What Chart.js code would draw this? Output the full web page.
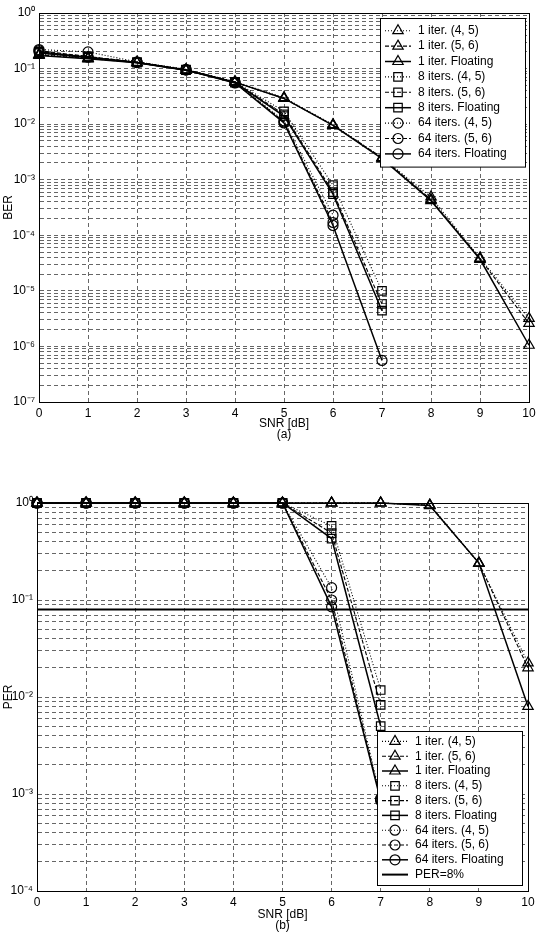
<!DOCTYPE html>
<html>
<head>
<meta charset="utf-8">
<script src="https://cdn.jsdelivr.net/npm/chart.js@4.4.1/dist/chart.umd.min.js"></script>
<style>
    html, body { margin: 0; padding: 0; background: #fff; overflow: hidden; }
    canvas { position: absolute; left: 0; }
    #berChart { top: 0; }
    #perChart { top: 450px; }
</style>
</head>
<body>
<canvas id="berChart" width="540" height="450"></canvas>
<canvas id="perChart" width="540" height="484"></canvas>
<script>
(function figure () {
    'use strict';

    var snr = [0, 1, 2, 3, 4, 5, 6, 7, 8, 9, 10];

    // (a) BER
    var ber1iter45 = [0.18, 0.155, 0.13, 0.095, 0.058, 0.030, 0.0098, 0.0025, 0.00049, 0.000039, 0.0000032];
    var ber1iter56 = [0.176, 0.152, 0.128, 0.094, 0.057, 0.029, 0.0096, 0.0025, 0.00044, 0.000038, 0.0000026];
    var ber1iterFl = [0.172, 0.150, 0.127, 0.093, 0.057, 0.029, 0.0095, 0.0024, 0.00042, 0.000037, 0.00000105];
    var ber8iter45 = [0.20, 0.165, 0.130, 0.096, 0.058, 0.017, 0.0008, 0.00001];
    var ber8iter56 = [0.195, 0.160, 0.130, 0.095, 0.057, 0.015, 0.0006, 0.0000058];
    var ber8iterFl = [0.19, 0.158, 0.128, 0.094, 0.056, 0.014, 0.00055, 0.0000044];
    var ber64iter45 = [0.22, 0.20, 0.132, 0.097, 0.057, 0.0115, 0.00023];
    var ber64iter56 = [0.21, 0.165, 0.130, 0.095, 0.056, 0.011, 0.00017];
    var ber64iterFl = [0.20, 0.160, 0.128, 0.094, 0.055, 0.0105, 0.00015, 0.00000056];

    // (b) PER
    var per1iter45 = [1, 1, 1, 1, 1, 1, 1, 1, 0.95, 0.24, 0.0225];
    var per1iter56 = [1, 1, 1, 1, 1, 1, 1, 1, 0.95, 0.24, 0.020];
    var per1iterFl = [1, 1, 1, 1, 1, 1, 1, 1, 0.94, 0.24, 0.008];
    var per8iter45 = [1, 1, 1, 1, 1, 1, 0.58, 0.0118];
    var per8iter56 = [1, 1, 1, 1, 1, 1, 0.49, 0.0083];
    var per8iterFl = [1, 1, 1, 1, 1, 1, 0.43, 0.005];
    var per64iter45 = [1, 1, 1, 1, 1, 1, 0.134, 0.0009];
    var per64iter56 = [1, 1, 1, 1, 1, 1, 0.100, 0.00088];
    var per64iterFl = [1, 1, 1, 1, 1, 1, 0.085, 0.00085];
    var perTarget = 0.08;

    var berDecades = [0, -1, -2, -3, -4, -5, -6, -7];
    var berTickLabels = ['10⁰', '10⁻¹', '10⁻²', '10⁻³', '10⁻⁴', '10⁻⁵', '10⁻⁶', '10⁻⁷'];
    var perDecades = [0, -1, -2, -3, -4];
    var perTickLabels = ['10⁰', '10⁻¹', '10⁻²', '10⁻³', '10⁻⁴'];

    var FONT = '"Liberation Sans", Arial, sans-serif';
    var dashes = { dot: [1, 2], dash: [4, 2], solid: [] };
    var sizes = { triangle: 6, rect: 6, circle: 5 };

    Chart.defaults.font.family = FONT;
    Chart.defaults.font.size = 12;
    Chart.defaults.color = '#000';

    function series (label, values, line, shape) {
        return {
            label: label,
            data: values.map(function (y, i) { return { x: snr[i], y: y }; }),
            borderColor: '#000',
            borderWidth: line === 'solid' ? 1.5 : 1.1,
            borderDash: dashes[line],
            pointStyle: shape,
            pointRadius: sizes[shape],
            pointBorderColor: '#000',
            pointBorderWidth: 1.2,
            pointBackgroundColor: 'rgba(0,0,0,0)',
            tension: 0,
            clip: false
        };
    }

    function drawMarker (ctx, shape, x, y, r) {
        ctx.beginPath();
        if (shape === 'triangle') {
            ctx.moveTo(x, y - r);
            ctx.lineTo(x + 0.866 * r, y + 0.5 * r);
            ctx.lineTo(x - 0.866 * r, y + 0.5 * r);
            ctx.closePath();
        } else if (shape === 'rect') {
            var h = r * Math.SQRT1_2;
            ctx.rect(x - h, y - h, 2 * h, 2 * h);
        } else {
            ctx.arc(x, y, r, 0, Math.PI * 2);
        }
        ctx.stroke();
    }

    // box round the axes and a matlab style legend
    var matlabLegend = {
        id: 'matlabLegend',
        afterDatasetsDraw: function (chart, args, opts) {
            var ctx = chart.ctx;
            var area = chart.chartArea;
            var items = chart.data.datasets;
            var w = opts.width;
            var h = opts.rowHeight * items.length + opts.pad * 2;
            var x0 = Math.round(area.right - opts.right - w);
            var y0 = Math.round(opts.top !== undefined ? area.top + opts.top : area.bottom - opts.bottom - h);

            ctx.save();
            ctx.strokeStyle = '#000';
            ctx.lineWidth = 1;
            ctx.strokeRect(Math.round(area.left) + 0.5, Math.round(area.top) + 0.5,
                Math.round(area.right - area.left), Math.round(area.bottom - area.top));

            ctx.fillStyle = '#fff';
            ctx.fillRect(x0, y0, w, h);
            ctx.strokeRect(x0 + 0.5, y0 + 0.5, w, h);

            ctx.font = '12px ' + FONT;
            ctx.textBaseline = 'middle';
            items.forEach(function (ds, i) {
                var y = y0 + opts.pad + opts.rowHeight * (i + 0.5);
                ctx.strokeStyle = '#000';
                ctx.lineWidth = ds.borderWidth;
                ctx.setLineDash(ds.borderDash || []);
                ctx.beginPath();
                ctx.moveTo(x0 + 5, y);
                ctx.lineTo(x0 + 31, y);
                ctx.stroke();
                ctx.setLineDash([]);
                ctx.lineWidth = 1.2;
                if (ds.pointRadius) {
                    drawMarker(ctx, ds.pointStyle, x0 + 18, y, ds.pointRadius);
                }
                ctx.fillStyle = '#000';
                ctx.fillText(ds.label, x0 + 38, y);
            });
            ctx.restore();
        }
    };

    function logTicks (decades) {
        var hi = decades[0];
        var lo = decades[decades.length - 1];
        return function (scale) {
            var ticks = [];
            for (var e = lo; e < hi; e++) {
                for (var k = 1; k <= 9; k++) {
                    ticks.push({ value: Number(k + 'e' + e) });
                }
            }
            ticks.push({ value: Number('1e' + hi) });
            scale.ticks = ticks;
        };
    }

    function decadeLabel (decades, labels) {
        return function (value) {
            var e = Math.round(Math.log10(value));
            if (Math.abs(value / Math.pow(10, e) - 1) < 1e-6) {
                return labels[decades.indexOf(e)];
            }
            return '';
        };
    }

    function makeChart (id, datasets, o) {
        var grid = {
            color: 'rgba(0,0,0,0.6)',
            lineWidth: 1,
            drawTicks: false
        };
        var border = { display: true, color: '#000', width: 1, dash: [4, 3] };

        return new Chart(document.getElementById(id).getContext('2d'), {
            type: 'line',
            data: { datasets: datasets },
            plugins: [matlabLegend],
            options: {
                responsive: false,
                animation: false,
                devicePixelRatio: 1,
                layout: { padding: { top: o.padTop, right: o.padRight, left: 0, bottom: 0 } },
                plugins: {
                    legend: { display: false },
                    tooltip: { enabled: false },
                    matlabLegend: o.legend
                },
                scales: {
                    x: {
                        type: 'linear',
                        min: 0,
                        max: 10,
                        grid: grid,
                        border: border,
                        ticks: { stepSize: 1, autoSkip: false, maxRotation: 0, padding: 4 },
                        title: {
                            display: true,
                            text: o.xTitle,
                            font: { size: 12, lineHeight: 0.92 },
                            padding: { top: 0, bottom: o.xTitlePad }
                        },
                        afterFit: function (scale) { scale.height = o.xHeight; }
                    },
                    y: {
                        type: 'logarithmic',
                        min: Math.pow(10, o.decades[o.decades.length - 1]),
                        max: Math.pow(10, o.decades[0]),
                        grid: grid,
                        border: border,
                        afterBuildTicks: logTicks(o.decades),
                        ticks: {
                            autoSkip: false,
                            padding: 4,
                            callback: decadeLabel(o.decades, o.tickLabels)
                        },
                        title: {
                            display: true,
                            text: o.yTitle,
                            font: { size: 12, lineHeight: 1 },
                            padding: { top: 3, bottom: 0 }
                        },
                        afterFit: function (scale) { scale.width = o.yWidth; }
                    }
                }
            }
        });
    }

    makeChart('berChart', [
        series('1 iter. (4, 5)', ber1iter45, 'dot', 'triangle'),
        series('1 iter. (5, 6)', ber1iter56, 'dash', 'triangle'),
        series('1 iter. Floating', ber1iterFl, 'solid', 'triangle'),
        series('8 iters. (4, 5)', ber8iter45, 'dot', 'rect'),
        series('8 iters. (5, 6)', ber8iter56, 'dash', 'rect'),
        series('8 iters. Floating', ber8iterFl, 'solid', 'rect'),
        series('64 iters. (4, 5)', ber64iter45, 'dot', 'circle'),
        series('64 iters. (5, 6)', ber64iter56, 'dash', 'circle'),
        series('64 iters. Floating', ber64iterFl, 'solid', 'circle')
    ], {
        decades: berDecades,
        tickLabels: berTickLabels,
        yTitle: 'BER',
        xTitle: ['SNR [dB]', '(a)'],
        yWidth: 39,
        xHeight: 48,
        xTitlePad: 9.5,
        padTop: 13,
        padRight: 11,
        legend: { width: 145, rowHeight: 15.4, pad: 5, right: 4, top: 5 }
    });

    var target = {
        label: 'PER=8%',
        data: snr.map(function (x) { return { x: x, y: perTarget }; }),
        borderColor: '#000',
        borderWidth: 2,
        borderDash: [],
        pointRadius: 0,
        clip: false
    };

    makeChart('perChart', [
        series('1 iter. (4, 5)', per1iter45, 'dot', 'triangle'),
        series('1 iter. (5, 6)', per1iter56, 'dash', 'triangle'),
        series('1 iter. Floating', per1iterFl, 'solid', 'triangle'),
        series('8 iters. (4, 5)', per8iter45, 'dot', 'rect'),
        series('8 iters. (5, 6)', per8iter56, 'dash', 'rect'),
        series('8 iters. Floating', per8iterFl, 'solid', 'rect'),
        series('64 iters. (4, 5)', per64iter45, 'dot', 'circle'),
        series('64 iters. (5, 6)', per64iter56, 'dash', 'circle'),
        series('64 iters. Floating', per64iterFl, 'solid', 'circle'),
        target
    ], {
        decades: perDecades,
        tickLabels: perTickLabels,
        yTitle: 'PER',
        xTitle: ['SNR [dB]', '(b)'],
        yWidth: 37,
        xHeight: 43,
        xTitlePad: 2.5,
        padTop: 53,
        padRight: 12,
        legend: { width: 145, rowHeight: 14.8, pad: 3, right: 6, bottom: 6 }
    });
}());
</script>
</body>
</html>
